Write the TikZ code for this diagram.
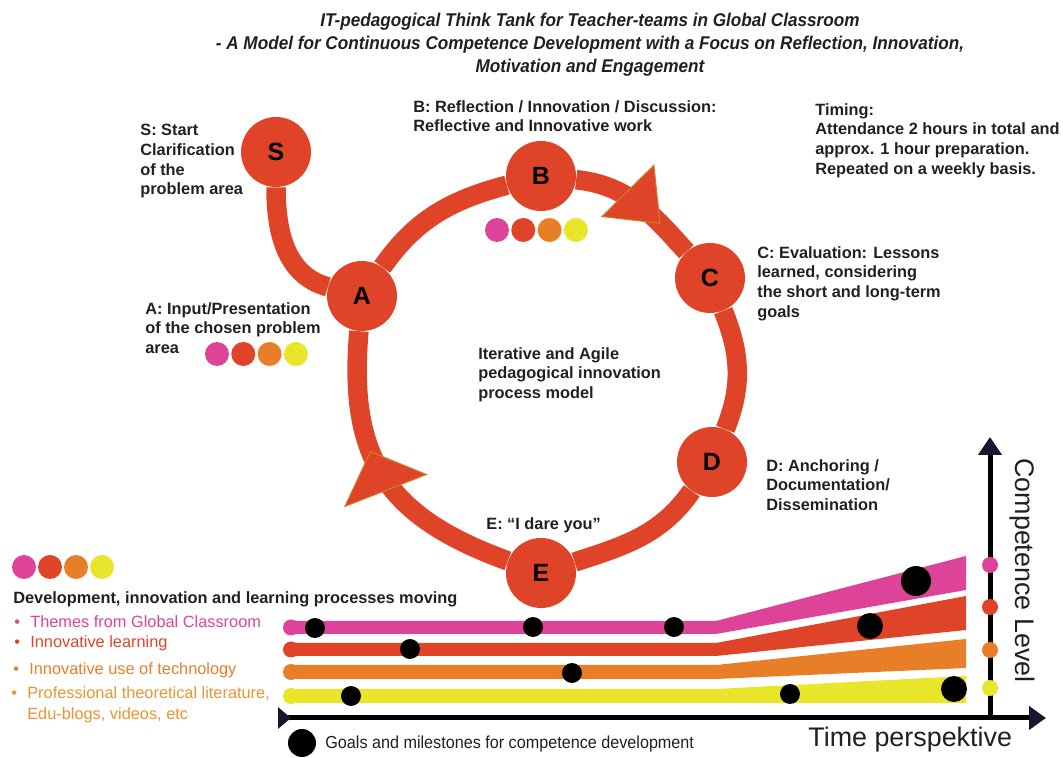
\documentclass[tikz,border=0pt]{standalone}
\usepackage{fontspec}
\setmainfont{Liberation Sans}
\newfontfamily\narrowfont[FakeStretch=0.93]{Liberation Sans}
\usetikzlibrary{arrows.meta,decorations.markings}
\definecolor{ringred}{RGB}{224,68,40}
\definecolor{thpink}{RGB}{221,68,153}
\definecolor{thorange}{RGB}{232,126,40}
\definecolor{thyellow}{RGB}{232,229,42}
\definecolor{litorange}{RGB}{236,148,48}
\definecolor{tipedge}{RGB}{205,125,45}
\definecolor{labelgray}{RGB}{35,31,32}
\definecolor{axisnavy}{RGB}{22,22,44}

% one growth stream: colour, cap centre, flat top, flat bottom, right top, right bottom
\newcommand{\stream}[6]{
    \fill[#1] (291,#3) -- (716,#3) -- (966,#5) -- (966,#6) -- (716,#4) -- (291,#4) -- cycle;
    \fill[#1] (291,#2) circle[radius=0.16cm];
}

\begin{document}
\begin{tikzpicture}[x=0.02cm,y=0.02cm,
    stage/.style={circle,fill=ringred,minimum size=1.4cm,inner sep=0pt,font=\fontsize{14.2}{14.2}\selectfont\bfseries},
    ring/.style={draw=ringred,line width=0.39cm},
    ringtip/.style n args={3}{postaction={decorate,decoration={markings,mark=at position #1 with {\arrow{Triangle[length=#3,width=#2,line width=0.6pt,color=tipedge,fill=ringred]}}}}},
    textblock/.style={anchor=north west,inner sep=0pt,align=left,text=labelgray,font=\fontsize{9.3}{11.2}\selectfont\bfseries},
    colordot/.style={circle,inner sep=0pt,minimum size=0.48cm},
    axisdot/.style={circle,inner sep=0pt,minimum size=0.32cm},
    milestone/.style={circle,fill=black,inner sep=0pt,minimum size=#1},
    item/.style={anchor=west,inner sep=0pt,align=left,font=\fontsize{9.3}{11.9}\selectfont},
    axis/.style={line width=0.1cm,draw=black}
]
    \useasboundingbox (0,0) rectangle (1063,758);

    % title
    \node[anchor=north,inner sep=0pt,align=center,text=labelgray,font=\narrowfont\fontsize{10.5}{13.1}\selectfont\bfseries\itshape] (title) at (590,745)
        {IT-pedagogical Think Tank for Teacher-teams in Global Classroom\\
         - A Model for Continuous Competence Development with a Focus on Reflection, Innovation,\\
         Motivation and Engagement};

    % the process ring
    \node[stage] (S) at (276,606) {S};
    \node[stage] (A) at (362,462) {A};
    \node[stage] (B) at (541,582) {B};
    \node[stage] (C) at (710,480) {C};
    \node[stage] (D) at (712,296) {D};
    \node[stage] (E) at (541,185) {E};

    \draw[ring] (S) to[out=-90,in=165] (A);
    \draw[ring] (A) to[out=55,in=195] (B);
    \draw[ring,ringtip={0.72}{1.5cm}{0.94cm}] (B) to[out=-6,in=132] (C);
    \draw[ring] (C) to[out=-68,in=68] (D);
    \draw[ring] (D) to[out=-125,in=18] (E);
    \draw[ring,ringtip={0.6}{1.8cm}{0.86cm}] (E) to[out=160,in=-95,looseness=1.2] (A);

    \foreach \c [count=\i] in {thpink,ringred,thorange,thyellow} {
        \node[colordot,fill=\c] (bdot\i) at ({497+26.3*(\i-1)},528) {};
        \node[colordot,fill=\c] (adot\i) at ({217+26.3*(\i-1)},404) {};
        \node[colordot,fill=\c] (ldot\i) at ({24+26*(\i-1)},191) {};
    }

    % labels round the ring
    \node[textblock] (slabel) at (140,634) {S: Start\\Clarification\\of the\\problem area};
    \node[textblock] (blabel) at (413,658) {B: Reflection / Innovation / Discussion:\\Reflective and Innovative work};
    \node[textblock] (timing) at (815,655) {Timing:\\Attendance 2 hours in total and\\approx. 1 hour preparation.\\Repeated on a weekly basis.};
    \node[textblock] (clabel) at (757,512) {C: Evaluation: Lessons\\learned, considering\\the short and long-term\\goals};
    \node[textblock] (alabel) at (145,456) {A: Input/Presentation\\of the chosen problem\\area};
    \node[textblock] (model) at (478,411) {Iterative and Agile\\pedagogical innovation\\process model};
    \node[textblock] (dlabel) at (766,299) {D: Anchoring /\\Documentation/\\Dissemination};
    \node[textblock,anchor=west] (elabel) at (486,233) {E: “I dare you”};

    % processes legend
    \node[textblock,anchor=west] (develop) at (13,159) {Development, innovation and learning processes moving};
    \node[item,text=thpink] (themes) at (14,136) {\makebox[0.32cm][l]{•}Themes from Global Classroom};
    \node[item,text=ringred] (learning) at (14,115) {\makebox[0.32cm][l]{•}Innovative learning};
    \node[item,text=thorange] (techuse) at (13,88) {\makebox[0.32cm][l]{•}Innovative use of technology};
    \node[item,text=litorange,anchor=north west] (literature) at (11,72) {\makebox[0.32cm][l]{•}Professional theoretical literature,\\\hspace*{0.32cm}Edu-blogs, videos, etc};

    % growth streams
    \stream{thpink}{130.5}{137}{124}{202}{168}
    \stream{ringred}{108.5}{115}{102}{162}{128}
    \stream{thorange}{86}{93}{79}{119}{90}
    \stream{thyellow}{62}{69}{55}{82}{55}

    % milestones
    \foreach \x/\y/\d [count=\i] in {315/130/0.4cm,533/131/0.4cm,674/131/0.4cm,916/177/0.6cm,
                                     410/109/0.4cm,870/132/0.52cm,572/85/0.4cm,
                                     351/62/0.4cm,790/64/0.4cm,954/69/0.52cm} {
        \node[milestone=\d] (ms\i) at (\x,\y) {};
    }

    % axes
    \coordinate (tstart) at (278,40);
    \coordinate (tend) at (1046,40);
    \coordinate (cbottom) at (990,38);
    \coordinate (ctop) at (990,321);
    \draw[axis,{Triangle[reversed,length=0.26cm,width=0.42cm,color=axisnavy]}-{Triangle[length=0.34cm,width=0.46cm,color=axisnavy]}] (tstart) -- (tend);
    \draw[axis,-{Triangle[length=0.36cm,width=0.46cm,color=axisnavy]}] (cbottom) -- (ctop);
    \foreach \c/\y [count=\i] in {thpink/193,ringred/151,thorange/108,thyellow/70} {
        \node[axisdot,fill=\c] (level\i) at (990,\y) {};
    }
    \node[rotate=-90,anchor=west,inner sep=0pt,text=labelgray,font=\fontsize{15.3}{15.3}\selectfont] (complevel) at (1022,300) {Competence Level};
    \node[anchor=west,inner sep=0pt,text=labelgray,font=\fontsize{15.3}{15.3}\selectfont] (timeaxis) at (808,18) {Time perspektive};

    % milestone legend
    \node[milestone=0.56cm] (goaldot) at (302,15) {};
    \node[anchor=west,inner sep=0pt,text=labelgray,font=\narrowfont\fontsize{9.9}{9.9}\selectfont] (goaltext) at (325,14) {Goals and milestones for competence development};
\end{tikzpicture}
\end{document}
